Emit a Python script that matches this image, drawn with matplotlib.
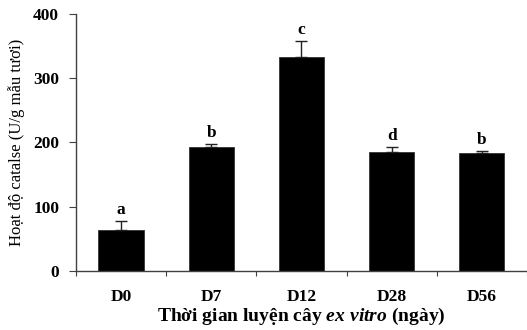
import numpy as np
import matplotlib.pyplot as plt

plt.rcParams['font.family'] = ['Liberation Serif', 'DejaVu Serif']
plt.rcParams['mathtext.fontset'] = 'custom'
plt.rcParams['mathtext.it'] = 'Liberation Serif:italic:bold'
plt.rcParams['mathtext.rm'] = 'Liberation Serif:bold'

days = ["D0", "D7", "D12", "D28", "D56"]
catalase = [63, 193, 333, 185, 183]
err = [15, 4, 24, 8, 3]
letters = ["a", "b", "c", "d", "b"]

fig = plt.figure(figsize=(5.27, 3.30), dpi=100)
ax = fig.add_axes([0.144, 0.179, 0.856, 0.779])

x = np.arange(len(days))
ax.bar(x, catalase, width=0.5, color='black', edgecolor='#333333', linewidth=0.6, zorder=2)
ax.errorbar(x, catalase, yerr=[np.zeros(len(err)), err], fmt='none',
            ecolor='#222222', elinewidth=1, capsize=4, capthick=1, zorder=3)

for xi, m, e, l in zip(x, catalase, err, letters):
    ax.text(xi, m + e + 5, l, ha='center', va='bottom', fontsize=12.5, fontweight='bold')

ax.set_xlim(-0.5, 4.467)
ax.set_ylim(0, 400)
ax.set_yticks([0, 100, 200, 300, 400])
ax.set_xticks(np.arange(-0.5, 5, 1))
ax.set_xticklabels([])
ax.set_xticks(x, minor=True)
ax.set_xticklabels(days, minor=True)
ax.tick_params(axis='x', which='minor', length=0, pad=13)
ax.tick_params(axis='x', which='major', direction='out', length=3.6, color='#404040')
ax.tick_params(axis='y', direction='out', length=5, color='#404040', pad=7)
for lab in ax.get_yticklabels() + ax.get_xticklabels(minor=True):
    lab.set_fontweight('bold')
    lab.set_fontsize(12.5)

for s in ['top', 'right']:
    ax.spines[s].set_visible(False)
for s in ['left', 'bottom']:
    ax.spines[s].set_color('#404040')
    ax.spines[s].set_linewidth(1)

ax.set_ylabel("Hoạt độ catalse (U/g mẫu tươi)", fontsize=12, labelpad=6)
ax.set_xlabel(r"Thời gian luyện cây $ex\ vitro$ (ngày)", fontsize=14, fontweight='bold', labelpad=0.5)

fig.savefig("out.png", dpi=100)
